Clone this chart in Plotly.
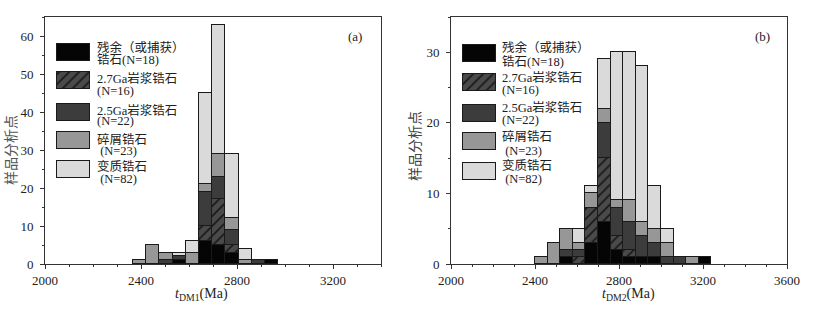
import plotly.graph_objects as go

W, H = 813, 316

# ---------------- data ----------------
# panel (a): t_DM1 histogram, bin left edges (Ma), bin width 55 Ma
bins_a = [2367, 2422, 2477, 2532, 2587, 2642, 2697, 2752, 2807, 2862, 2917]
binw_a = 55
relict_a   = [0, 0, 0, 1, 0, 6, 5, 3, 0, 0, 1]
mag27_a    = [0, 0, 0, 0, 0, 4, 12, 2, 0, 0, 0]
mag25_a    = [0, 0, 1, 1, 0, 9, 6, 4, 0, 1, 0]
detrital_a = [1, 5, 2, 0, 3, 2, 6, 3, 1, 0, 0]
meta_a     = [0, 0, 0, 1, 3, 24, 34, 17, 3, 0, 0]

# panel (b): t_DM2 histogram, bin left edges (Ma), bin width 60 Ma
bins_b = [2400, 2460, 2520, 2580, 2640, 2700, 2760, 2820, 2880, 2940, 3000, 3060, 3120, 3180]
binw_b = 60
relict_b   = [0, 0, 1, 0, 3, 6, 2, 1, 1, 1, 0, 0, 0, 1]
mag27_b    = [0, 0, 0, 1, 5, 9, 2, 1, 0, 0, 0, 0, 0, 0]
mag25_b    = [0, 0, 1, 1, 0, 5, 4, 4, 3, 2, 1, 1, 0, 0]
detrital_b = [1, 3, 3, 1, 2, 2, 1, 3, 2, 2, 2, 0, 1, 0]
meta_b     = [0, 0, 0, 2, 1, 7, 21, 21, 22, 6, 2, 0, 0, 0]

legend_line1 = ["残余（或捕获）", "2.7Ga岩浆锆石", "2.5Ga岩浆锆石", "碎屑锆石", "变质锆石"]
legend_line2 = ["锆石(N=18)", "(N=16)", "(N=22)", " (N=23)", " (N=82)"]

xticks_a = [2000, 2400, 2800, 3200]
xticks_b = [2000, 2400, 2800, 3200, 3600]
yticks_a = [0, 10, 20, 30, 40, 50, 60]
yticks_b = [0, 10, 20, 30]

# ---------------- styles ----------------
SERIF = "Liberation Serif, Noto Sans CJK SC"
CJK = "Noto Sans CJK SC, Liberation Serif"
TXT = "#222222"
EDGE = "#1a1a1a"
HATCH = dict(shape="/", bgcolor="#4a4a4a", fgcolor="#111111", size=7, solidity=0.22,
             fillmode="replace")
styles = [
    dict(color="#050505", pattern=None),
    dict(color="#4a4a4a", pattern=HATCH),
    dict(color="#3c3c3c", pattern=None),
    dict(color="#979797", pattern=None),
    dict(color="#dadada", pattern=None),
]

def nz(v):
    return [x if x else None for x in v]

def marker(st):
    m = dict(color=st["color"], line=dict(color=EDGE, width=1))
    if st["pattern"]:
        m["pattern"] = st["pattern"]
    return m

fig = go.Figure()

series_a = [relict_a, mag27_a, mag25_a, detrital_a, meta_a]
series_b = [relict_b, mag27_b, mag25_b, detrital_b, meta_b]

for vals, st in zip(series_a, styles):
    fig.add_trace(go.Bar(x=bins_a, y=nz(vals), width=binw_a, offset=0, marker=marker(st),
                         xaxis="x", yaxis="y", showlegend=False))
for vals, st in zip(series_b, styles):
    fig.add_trace(go.Bar(x=bins_b, y=nz(vals), width=binw_b, offset=0, marker=marker(st),
                         xaxis="x2", yaxis="y2", showlegend=False))

# pixel geometry of the two frames
PA = dict(l=45, r=381, t=17, b=264)
PB = dict(l=451, r=787, t=17, b=264)

def dom(p):
    return [p["l"] / W, p["r"] / W], [(H - p["b"]) / H, (H - p["t"]) / H]

xa, ya = dom(PA)
xb, yb = dom(PB)

# legend boxes: bar traces in pixel-coordinate overlay axes
leg_a = dict(left=57, width=33, centers=[52, 80.5, 112, 140.7, 169.5], h=17,
             tx=95, ty1=[47.8, 78.8, 110.2, 139.5, 166.2], ty2=[60.1, 91.2, 121.5, 151.2, 178.8])
leg_b = dict(left=463, width=33, centers=[53.5, 82.5, 113, 141.7, 171.3], h=17,
             tx=500, ty1=[47.5, 78, 108, 136.5, 165], ty2=[61.7, 90.5, 120.5, 151, 178.8])

for lg, xax, yax in [(leg_a, "x3", "y3"), (leg_b, "x4", "y4")]:
    for i, st in enumerate(styles):
        fig.add_trace(go.Bar(orientation="h", y=[lg["centers"][i]], x=[lg["width"]],
                             base=[lg["left"]], width=lg["h"], xaxis=xax, yaxis=yax,
                             showlegend=False, hoverinfo="skip", marker=marker(st)))

annotations = []
for lg, xr, yr in [(leg_a, "x3", "y3"), (leg_b, "x4", "y4")]:
    for i in range(5):
        annotations.append(dict(x=lg["tx"], y=lg["ty1"][i], xref=xr, yref=yr, text=legend_line1[i],
                                showarrow=False, xanchor="left", yanchor="middle",
                                font=dict(family=SERIF, size=12.5, color=TXT)))
        annotations.append(dict(x=lg["tx"], y=lg["ty2"][i], xref=xr, yref=yr, text=legend_line2[i],
                                showarrow=False, xanchor="left", yanchor="middle",
                                font=dict(family=SERIF, size=12.5, color=TXT)))

# panel labels, axis titles
annotations += [
    dict(x=355, y=37, xref="x3", yref="y3", text="(a)", showarrow=False,
         xanchor="center", yanchor="middle", font=dict(family=SERIF, size=13, color=TXT)),
    dict(x=762, y=37, xref="x4", yref="y4", text="(b)", showarrow=False,
         xanchor="center", yanchor="middle", font=dict(family=SERIF, size=13, color=TXT)),
    dict(x=201 / W, y=(H - 294) / H, xref="paper", yref="paper",
         text="<i>t</i><sub>DM1</sub>(Ma)", showarrow=False, xanchor="center", yanchor="middle",
         font=dict(family=SERIF, size=14, color=TXT)),
    dict(x=628 / W, y=(H - 294) / H, xref="paper", yref="paper",
         text="<i>t</i><sub>DM2</sub>(Ma)", showarrow=False, xanchor="center", yanchor="middle",
         font=dict(family=SERIF, size=14, color=TXT)),
    dict(x=10 / W, y=(H - 150) / H, xref="paper", yref="paper", text="样品分析点",
         textangle=-90, showarrow=False, xanchor="center", yanchor="middle",
         font=dict(family=CJK, size=14, color="#555")),
    dict(x=414 / W, y=(H - 146) / H, xref="paper", yref="paper", text="样品分析点",
         textangle=-90, showarrow=False, xanchor="center", yanchor="middle",
         font=dict(family=CJK, size=14, color="#444")),
]

def main_x(domain, rng, ticks, anchor):
    return dict(domain=domain, range=rng, tickvals=ticks, anchor=anchor, automargin=False,
                showline=True, mirror=True, linecolor="#333", linewidth=1,
                ticks="outside", ticklen=4, tickcolor="#333",
                minor=dict(dtick=100, ticks="outside", ticklen=2, tickcolor="#333"),
                showgrid=False, zeroline=False, fixedrange=True,
                tickfont=dict(family=SERIF, size=13, color=TXT))

def main_y(domain, rng, ticks, anchor):
    return dict(domain=domain, range=rng, tickvals=ticks, anchor=anchor, automargin=False,
                showline=True, mirror=True, linecolor="#333", linewidth=1,
                ticks="outside", ticklen=4, tickcolor="#333", ticklabelstandoff=4,
                minor=dict(dtick=5, ticks="outside", ticklen=2, tickcolor="#333"),
                showgrid=False, zeroline=False, fixedrange=True,
                tickfont=dict(family=SERIF, size=13, color=TXT))

def pix_x(domain, p, anchor):
    return dict(domain=domain, range=[p["l"], p["r"]], visible=False, anchor=anchor,
                fixedrange=True, automargin=False)

def pix_y(domain, p, anchor):
    return dict(domain=domain, range=[p["b"], p["t"]], visible=False, anchor=anchor,
                fixedrange=True, automargin=False)

fig.update_layout(
    width=W, height=H, margin=dict(l=0, r=0, t=0, b=0, autoexpand=False),
    paper_bgcolor="white", plot_bgcolor="rgba(0,0,0,0)",
    barmode="stack", bargap=0,
    xaxis=main_x(xa, [2000, 3400], xticks_a, "y"),
    yaxis=main_y(ya, [0, 65], yticks_a, "x"),
    xaxis2=main_x(xb, [2000, 3600], xticks_b, "y2"),
    yaxis2=main_y(yb, [0, 35], yticks_b, "x2"),
    xaxis3=pix_x(xa, PA, "y3"),
    yaxis3=pix_y(ya, PA, "x3"),
    xaxis4=pix_x(xb, PB, "y4"),
    yaxis4=pix_y(yb, PB, "x4"),
    annotations=annotations,
    showlegend=False,
)

fig.write_html("out.html", config={"displayModeBar": False},
               post_script="document.body.style.margin='0';document.body.style.overflow='hidden';")
